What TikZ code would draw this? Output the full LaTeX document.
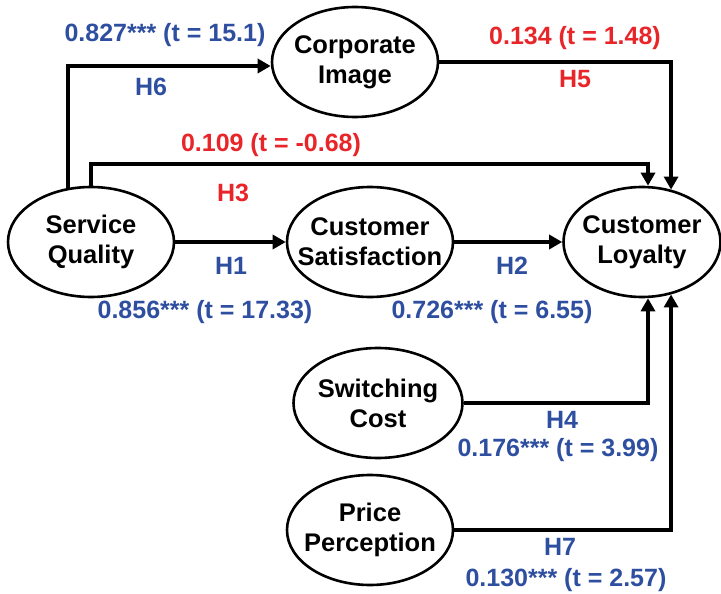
\documentclass[tikz,border=0pt]{standalone}
\usepackage{fontspec}
\setmainfont{Liberation Sans}
\usetikzlibrary{shapes.geometric,arrows.meta}

\definecolor{sigblue}{RGB}{46,78,160}
\definecolor{nonsigred}{RGB}{232,38,42}

\begin{document}
\begin{tikzpicture}[x=1pt, y=-1pt,
    construct/.style={ellipse, draw, line width=2.6pt, inner xsep=-15pt, inner ysep=0pt,
        minimum width=166pt, minimum height=110pt, align=center,
        font=\fontsize{25.5}{30}\selectfont\bfseries},
    link/.style={line width=4pt, line join=miter, -{Triangle[length=13pt,width=14pt]}},
    coef/.style={font=\fontsize{25}{28}\selectfont\bfseries, inner sep=0pt},
    sig/.style={coef, text=sigblue},
    nonsig/.style={coef, text=nonsigred}]

    \useasboundingbox (0,0) rectangle (721,594);

    % ==========================================
    % Constructos
    % ==========================================
    \node[construct] (sq) at (91,242)  {Service\\Quality};
    \node[construct] (ci) at (355,62)  {Corporate\\Image};
    \node[construct] (cs) at (370,242) {Customer\\Satisfaction};
    \node[construct, minimum width=157pt] (cl) at (642,242) {Customer\\Loyalty};
    \node[construct, minimum width=169pt] (sc) at (378,403) {Switching\\Cost};
    \node[construct] (pp) at (370,530) {Price\\Perception};

    % ==========================================
    % Caminos
    % ==========================================
    % H6
    \draw[link] (sq.113) |- ([yshift=-4pt]ci.west);
    % H3
    \draw[link] (sq.north) -- (sq.north |- 0,164) -| ([xshift=6pt]cl.north);
    % H5
    \draw[link] (ci.east) -| (cl.61);
    % H1 y H2
    \draw[link] (sq.east) -- (cs.west);
    \draw[link] (cs.east) -- (cl.west);
    % H4
    \draw[link] (sc.east) -| ([xshift=6pt]cl.south);
    % H7
    \draw[link] (pp.east) -| (cl.-61);

    % ==========================================
    % Coeficientes
    % ==========================================
    \node[sig] (h6v) at (165,35) {0.827*** (t = 15.1)};
    \node[sig] (h6)  at (151,87) {H6};

    \node[nonsig] (h3v) at (271,145) {0.109 (t = -0.68)};
    \node[nonsig] (h3)  at (233,193) {H3};

    \node[nonsig] (h5v) at (575,38) {0.134 (t = 1.48)};
    \node[nonsig] (h5)  at (575,79) {H5};

    \node[sig] (h1)  at (231,266) {H1};
    \node[sig] (h1v) at (205,312) {0.856*** (t = 17.33)};

    \node[sig] (h2)  at (512,266) {H2};
    \node[sig] (h2v) at (492,312) {0.726*** (t = 6.55)};

    \node[sig] (h4)  at (562,420) {H4};
    \node[sig] (h4v) at (558,450) {0.176*** (t = 3.99)};

    \node[sig] (h7)  at (560,547) {H7};
    \node[sig] (h7v) at (566,580) {0.130*** (t = 2.57)};

\end{tikzpicture}
\end{document}
